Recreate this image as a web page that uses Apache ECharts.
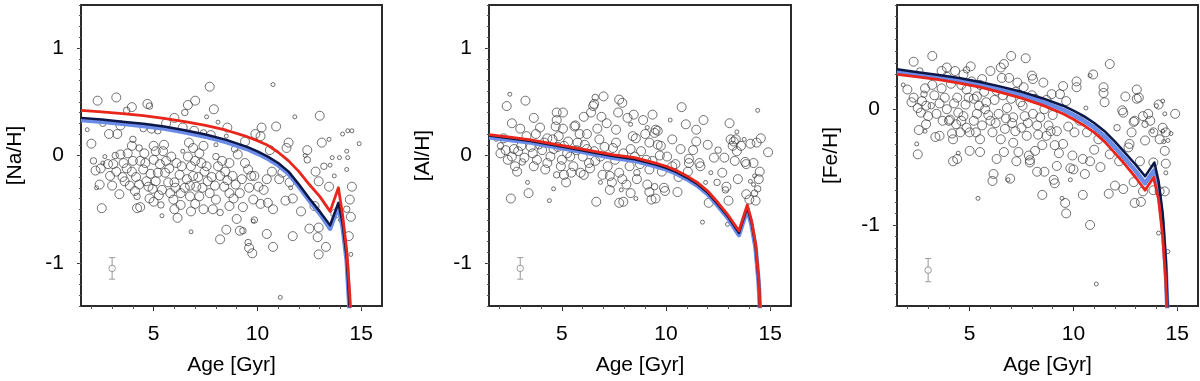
<!DOCTYPE html>
<html>
<head>
<meta charset="utf-8">
<script src="https://cdn.jsdelivr.net/npm/echarts@6/dist/echarts.min.js"></script>
<style>
  html, body { margin: 0; padding: 0; background: #fff; }
  #main { width: 1200px; height: 381px; }
</style>
</head>
<body>
<div id="main"></div>
<script>
// [age, value, size class] size class: 1 small, 2 medium, 3 large
var naPts = [
  [7.7,0.64,3],[10.75,0.66,1],[2.3,0.51,3],[3.2,0.54,3],[4.7,0.48,3],[4.8,0.46,2],[3.95,0.45,3],[3.7,0.42,2],[7.0,0.51,3],[6.65,0.47,3],
  [7.9,0.43,3],[6.5,0.40,2],[7.55,0.36,1],[6.0,0.35,3],[8.55,0.26,3],[8.1,0.31,1],[13.0,0.37,3],[11.8,0.36,1],[10.9,0.27,3],[10.2,0.26,3],
  [1.8,0.24,1],[2.0,0.11,3],[2.85,0.20,3],[3.25,0.20,3],[2.55,0.30,2],[4.9,0.25,3],[4.5,0.25,2],[5.2,0.23,2],[5.6,0.30,3],[6.4,0.26,3],
  [6.95,0.23,3],[7.4,0.21,2],[7.75,0.19,3],[8.5,0.18,1],[9.4,0.13,3],[10.15,0.18,3],[11.5,0.12,3],[11.4,0.07,3],[12.4,0.05,3],[13.1,0.12,3],
  [13.45,0.15,1],[14.1,0.20,1],[14.35,0.23,1],[14.55,0.23,1],[14.9,0.11,1],[14.3,0.04,1],[14.35,-0.02,1],[14.3,-0.13,1],[13.7,-0.19,1],[13.5,-0.09,1],
  [13.6,-0.02,1],[13.95,-0.02,1],[12.3,0.0,1],[12.4,-0.04,2],[12.8,-0.15,3],[13.2,-0.10,2],[12.95,-0.24,3],[13.45,-0.29,3],[14.55,-0.29,3],[14.45,-0.41,3],
  [13.75,-0.54,3],[14.5,-0.57,3],[14.0,-0.60,1],[14.4,-0.75,3],[14.5,-0.92,1],[14.3,-0.50,2],[12.75,-0.47,3],[12.95,-0.67,3],[12.5,-0.68,3],[12.9,-0.76,3],
  [13.3,-0.85,3],[12.95,-0.92,3],[12.1,-0.52,3],[11.7,-0.75,3],[11.7,-0.40,3],[11.35,-0.42,3],[10.75,-0.50,3],[10.5,-0.44,3],[10.45,-0.73,3],[10.75,-0.85,3],
  [11.2,-0.16,3],[11.55,-0.25,3],[11.6,-0.30,1],[11.05,-0.22,3],[10.7,-0.15,3],[10.45,-0.22,3],[10.3,-0.32,3],[10.05,-0.29,3],[9.8,-0.41,3],[9.55,-0.81,2],
  [9.6,-0.86,3],[9.75,-0.91,3],[9.15,-0.70,3],[9.3,-0.70,2],[8.5,-0.69,3],[8.2,-0.78,3],[9.8,-0.61,1],[9.85,-0.60,2],[9.0,-0.59,3],[8.65,-0.47,3],
  [8.2,-0.53,2],[7.85,-0.50,3],[7.4,-0.50,3],[6.8,-0.52,3],[6.15,-0.58,3],[6.8,-0.71,1],[6.3,-0.46,3],[5.4,-0.56,1],[5.0,-0.43,3],[4.2,-0.49,3],
  [4.35,-0.48,3],[2.5,-0.49,3],[2.4,-0.27,3],[2.9,-0.19,3],[2.2,-0.14,3],[2.25,-0.30,1],[2.65,-0.01,1],[2.8,-0.08,3],[2.55,-0.07,1],[3.05,-0.08,3],
  [3.4,0.01,3],[3.15,0.0,2],[3.55,-0.07,3],[3.75,0.02,3],[3.35,-0.36,3],[3.6,-0.24,3],[3.95,-0.15,3],[4.1,-0.33,3],[4.2,-0.38,2],[4.35,-0.05,3],
  [4.5,-0.13,3],[4.65,-0.24,3],[4.75,-0.29,3],[3.95,0.09,3],[4.3,0.07,2],[5.0,0.09,3],[5.1,0.04,3],[5.0,-0.04,3],[5.45,0.04,3],[5.3,-0.08,3],
  [5.2,-0.16,3],[5.1,-0.24,3],[5.55,-0.16,3],[5.7,-0.25,3],[5.4,-0.32,3],[5.8,-0.35,3],[5.95,-0.41,3],[5.85,-0.01,3],[6.1,-0.07,3],[6.25,-0.18,3],
  [6.5,-0.30,3],[6.4,0.04,1],[6.65,-0.01,3],[6.8,-0.10,3],[6.9,-0.19,3],[7.05,-0.29,3],[7.2,0.02,3],[7.3,-0.07,3],[7.45,-0.15,3],[7.6,-0.24,3],
  [7.7,-0.35,3],[8.0,-0.01,2],[8.1,-0.10,3],[8.2,-0.19,3],[8.4,-0.29,3],[8.65,-0.07,3],[8.8,-0.19,3],[8.95,-0.27,3],[9.15,-0.35,3],[9.05,0.01,3],
  [9.4,-0.07,3],[9.55,-0.13,3],[9.7,-0.19,3],[9.85,-0.19,3],[8.65,-0.35,3],[8.0,-0.41,3],[7.2,-0.38,3],[6.75,-0.38,3],[6.3,-0.35,3],[4.8,-0.40,3],
  [7.4,0.09,3],[6.9,0.07,3],[8.9,0.06,2],[8.0,0.10,1],[11.1,-1.32,1],
  [2.1,-0.05,2],[2.45,-0.12,3],[3.0,-0.28,3],[3.2,-0.15,3],[3.5,-0.20,3],[3.7,-0.12,3],[3.85,-0.28,3],[4.0,-0.05,3],[4.15,-0.20,3],[4.3,-0.27,3],
  [4.55,0.02,3],[4.6,-0.07,3],[4.85,-0.17,3],[4.95,-0.31,3],[5.25,-0.37,3],[5.35,-0.46,2],[5.6,-0.05,3],[5.75,-0.12,3],[6.0,-0.25,3],[6.05,-0.30,3],
  [6.35,-0.10,3],[6.6,-0.22,3],[6.75,-0.28,3],[7.0,-0.05,3],[7.15,-0.20,3],[7.35,-0.30,3],[7.55,-0.10,3],[7.8,-0.20,3],[7.95,-0.28,3],[8.3,-0.05,3],
  [8.45,-0.15,3],[8.55,-0.23,3],[9.25,-0.22,3],[9.3,-0.48,3],[9.6,-0.30,3],[10.15,-0.45,3],[8.85,-0.40,3],[7.0,-0.45,3],[6.0,-0.50,3],[5.5,0.10,3],
  [6.7,0.12,3],[4.0,0.15,2],[3.4,0.28,3],[9.9,0.20,3],[10.6,0.05,3]
];

var alPts = [
  [2.5,0.57,1],[2.35,0.46,3],[3.25,0.51,3],[2.6,0.30,3],[2.05,0.02,3],[1.85,0.15,1],[2.2,0.16,3],[2.55,-0.40,3],[3.3,0.18,3],[3.05,0.09,3],
  [3.65,0.35,3],[3.95,0.26,3],[3.35,-0.25,1],[3.4,-0.35,3],[2.75,-0.10,3],[2.6,-0.01,3],[2.85,-0.15,3],[3.1,-0.06,2],[3.6,0.02,3],[3.65,-0.10,3],
  [3.8,-0.04,3],[4.15,0.12,3],[4.2,-0.13,3],[4.4,-0.42,1],[4.45,-0.01,3],[4.6,0.06,3],[4.7,0.27,3],[4.75,0.40,3],[4.75,0.33,3],[5.05,0.40,3],
  [4.85,0.18,3],[5.1,0.09,3],[5.0,-0.04,3],[4.95,-0.10,3],[5.1,-0.18,3],[5.2,-0.25,3],[4.6,-0.31,1],[5.25,0.02,3],[5.6,0.27,3],[5.65,0.28,3],
  [5.4,-0.01,3],[5.55,-0.10,3],[5.75,0.12,3],[6.0,-0.01,3],[6.05,0.36,3],[6.4,0.40,3],[6.5,0.46,3],[6.55,0.48,3],[6.6,0.54,2],[7.0,0.55,3],
  [6.9,0.36,3],[6.2,0.20,3],[5.9,-0.16,3],[6.05,-0.18,3],[6.3,-0.07,3],[6.55,0.04,3],[6.8,0.15,3],[6.85,-0.01,3],[6.85,-0.25,1],[6.95,-0.18,3],
  [7.2,-0.10,3],[7.3,-0.19,3],[7.3,-0.32,3],[7.45,0.07,3],[6.65,-0.43,3],[7.6,0.24,3],[7.75,0.52,3],[7.9,0.49,3],[7.7,0.40,3],[8.15,0.35,3],
  [8.45,0.38,3],[8.3,0.29,1],[7.75,-0.44,3],[7.95,-0.43,3],[7.85,-0.32,1],[7.9,-0.22,3],[8.25,-0.10,3],[8.3,-0.35,3],[8.55,-0.40,1],[8.6,-0.22,3],
  [8.55,0.16,3],[8.8,0.04,3],[8.9,0.33,3],[9.1,0.26,1],[9.2,0.12,3],[9.45,0.21,3],[9.35,0.38,3],[9.6,0.23,3],[9.5,0.24,3],[9.05,-0.04,3],
  [9.2,-0.13,3],[9.1,-0.27,3],[9.2,-0.34,3],[9.3,-0.41,3],[9.5,-0.40,3],[9.7,0.0,3],[9.75,0.09,3],[9.9,-0.30,3],[9.95,-0.33,3],[10.05,-0.01,3],
  [10.2,0.33,1],[10.3,-0.10,3],[10.45,-0.08,3],[10.55,-0.34,3],[10.7,0.06,3],[10.75,0.45,3],[10.95,0.29,3],[11.1,-0.03,3],[11.1,-0.07,3],[11.05,-0.15,3],
  [11.45,0.24,3],[11.45,0.13,3],[11.6,-0.07,3],[11.65,-0.10,3],[11.8,0.33,3],[11.75,-0.62,1],[11.9,-0.25,1],[12.05,-0.44,3],[12.15,-0.16,1],[12.3,-0.02,3],
  [12.45,-0.25,2],[12.7,-0.16,3],[12.8,-0.02,3],[12.85,-0.32,2],[12.9,-0.29,3],[12.95,-0.64,1],[13.05,0.30,3],[13.1,0.15,3],[13.2,0.09,3],[13.0,-0.42,3],
  [13.4,0.22,1],[13.35,0.15,3],[13.25,0.13,3],[13.6,0.09,3],[13.4,0.04,3],[13.45,-0.22,3],[13.75,0.15,1],[13.8,-0.06,3],[13.85,-0.08,3],[14.05,0.11,3],
  [14.0,-0.41,3],[13.85,-0.36,3],[14.2,-0.07,3],[14.4,0.42,1],[14.3,-0.42,3],[14.35,0.12,3],[14.55,0.16,3],[14.5,-0.15,3],[14.45,-0.22,3],[14.2,-0.27,1],
  [14.4,-0.31,2],[14.25,-0.35,2],[14.05,-0.24,1],[14.9,0.03,3],[14.25,-0.19,1],[2.05,0.09,2],[2.4,-0.04,3],[2.7,0.06,3],[4.3,0.16,3],[3.9,0.09,2],
  [4.75,-0.18,2],[7.55,-0.04,3],[7.75,-0.16,3],[8.5,-0.01,3],[8.6,-0.16,2],[6.2,0.06,3],[9.45,-0.29,2],[8.3,0.06,3],
  [2.9,0.04,3],[3.2,-0.02,3],[3.5,0.08,3],[3.75,0.20,3],[4.05,0.05,3],[4.3,-0.07,3],[4.55,0.15,3],[4.8,0.08,3],[5.3,0.13,3],[5.45,-0.16,3],
  [5.7,0.05,3],[5.85,0.20,3],[6.1,0.10,3],[6.35,-0.12,3],[6.6,-0.05,3],[6.7,0.25,3],[7.05,0.08,3],[7.15,0.30,3],[7.4,-0.25,3],[7.6,0.12,3],
  [7.95,0.02,3],[8.1,-0.27,3],[8.4,0.18,3],[8.75,-0.08,3],[9.0,0.20,3],[9.35,-0.05,3],[9.6,0.10,3],[9.8,-0.15,3],[10.3,0.15,3],[10.6,-0.20,3],
  [11.3,0.05,3],[12.0,0.10,3],[12.5,0.05,2],[13.3,-0.05,3],[5.05,0.25,3],[3.0,0.25,3],[2.3,0.05,3]
];

var fePts = [
  [2.3,0.41,3],[3.2,0.46,3],[1.8,0.21,1],[2.0,0.17,3],[2.2,0.06,3],[2.6,0.33,2],[2.8,0.13,2],[2.85,0.18,3],[2.5,0.01,3],[2.65,-0.03,3],
  [2.9,0.03,3],[2.55,-0.18,3],[2.45,-0.30,1],[2.5,-0.39,3],[2.85,-0.19,1],[2.9,-0.13,3],[3.15,0.03,2],[3.2,0.21,3],[3.65,0.33,3],[3.9,0.36,3],
  [3.4,-0.04,3],[3.35,-0.24,3],[3.55,-0.23,3],[3.65,0.18,3],[3.8,0.10,3],[3.9,0.0,3],[4.05,-0.09,3],[4.15,-0.21,3],[4.2,-0.26,3],[4.2,-0.45,3],
  [4.4,-0.43,3],[4.45,-0.38,1],[4.35,-0.13,3],[4.45,-0.03,3],[4.4,0.10,3],[4.6,0.21,3],[4.7,0.30,3],[4.85,0.34,2],[5.05,0.37,3],[4.85,0.17,3],
  [4.8,0.04,3],[4.7,-0.06,3],[4.85,-0.16,3],[5.0,-0.20,3],[5.0,-0.36,3],[5.2,0.09,3],[5.35,-0.04,3],[5.35,0.11,3],[5.5,0.21,3],[5.6,0.26,3],
  [5.4,-0.77,1],[5.5,-0.37,3],[5.6,-0.14,3],[5.75,0.0,3],[6.0,0.33,3],[6.1,-0.20,3],[6.15,-0.56,3],[6.1,-0.62,3],[6.3,-0.43,3],[6.5,0.36,3],
  [6.65,0.39,3],[6.55,0.27,3],[6.3,0.16,3],[6.4,-0.04,3],[6.7,-0.17,3],[6.65,-0.37,3],[6.95,-0.60,3],[6.85,-0.61,1],[7.0,0.46,3],[6.9,0.27,3],
  [7.0,0.09,3],[7.1,-0.07,3],[7.2,-0.19,3],[7.1,-0.29,3],[7.25,-0.45,3],[7.35,-0.37,3],[7.3,0.23,3],[7.45,0.06,3],[7.7,0.44,3],[7.6,0.19,3],
  [7.65,-0.06,3],[7.75,-0.23,3],[7.85,-0.40,3],[7.9,-0.44,3],[7.9,-0.46,3],[8.0,0.29,3],[8.05,0.26,3],[8.15,0.09,3],[8.05,-0.04,3],[8.25,-0.14,3],
  [8.15,-0.36,3],[8.25,-0.54,3],[8.5,-0.74,3],[8.6,-0.54,3],[8.55,0.23,3],[8.6,0.0,3],[8.7,-0.23,3],[8.8,-0.14,3],[8.95,0.13,3],[9.05,-0.61,3],
  [9.1,-0.64,3],[9.2,-0.49,3],[9.1,-0.31,3],[9.2,-0.19,3],[9.35,0.13,3],[9.5,0.20,3],[9.45,-0.77,1],[9.6,-0.81,3],[9.65,-0.90,3],[9.85,-0.51,3],
  [9.85,-0.61,1],[9.65,0.07,3],[9.5,-0.30,3],[9.95,-0.40,3],[10.05,-0.20,3],[10.15,0.24,3],[10.15,0.19,3],[10.45,-0.43,3],[10.55,-0.56,3],[10.45,-0.74,3],
  [10.6,0.01,1],[10.65,-0.20,3],[10.8,-1.0,3],[10.8,-0.45,3],[10.95,0.30,3],[10.8,0.29,1],[11.1,-1.51,1],[11.2,-0.26,3],[11.45,0.19,3],[11.45,0.14,3],
  [11.5,0.06,3],[11.75,0.39,3],[11.75,-0.39,3],[11.7,-0.73,3],[12.0,-0.66,3],[12.1,-0.16,2],[12.35,-0.01,3],[12.4,-0.03,3],[12.4,-0.69,3],[12.5,0.11,3],
  [12.65,-0.33,3],[12.7,-0.30,3],[12.9,-0.11,3],[12.95,-0.10,3],[13.05,0.17,3],[13.05,0.09,3],[13.15,0.10,3],[12.95,-0.81,3],[13.25,-0.80,3],[12.9,-0.63,3],
  [13.35,-0.71,3],[13.35,-0.06,3],[13.6,-0.04,3],[13.7,-0.10,3],[13.45,-0.27,3],[13.45,-0.13,2],[13.8,-0.19,1],[13.85,-0.20,3],[14.1,0.04,3],[14.0,0.03,1],
  [14.3,0.07,1],[14.4,-0.04,1],[14.45,-0.20,3],[14.15,-0.26,3],[14.3,-0.16,3],[14.3,-0.19,1],[14.4,-0.36,3],[14.35,-0.28,1],[14.45,-0.47,3],[13.85,-0.46,3],
  [13.85,-0.70,3],[14.15,-0.71,3],[14.4,-0.71,3],[14.1,-1.07,1],[14.55,-1.23,1],[14.9,-0.04,3],[14.45,-0.55,1],[14.7,-0.21,1],[14.55,-0.27,1],[4.0,-0.10,3],
  [5.2,-0.10,3],[5.8,0.06,3],[6.0,-0.10,3],[6.8,0.01,3],[7.5,-0.16,3],[8.4,-0.07,3],[8.9,-0.19,3],[8.5,-0.31,3],[6.5,-0.26,3],[5.5,-0.26,3],
  [4.55,-0.20,3],
  [2.3,0.10,3],[2.7,0.07,3],[3.0,-0.06,3],[3.3,0.12,3],[3.55,0.05,3],[3.7,-0.10,3],[4.1,0.22,3],[4.25,0.05,3],[4.6,-0.10,3],[4.95,0.10,3],
  [5.1,0.24,3],[5.3,-0.20,3],[5.45,0.03,3],[5.7,0.15,3],[5.9,-0.05,3],[6.2,0.08,3],[6.25,-0.12,3],[6.6,0.12,3],[6.75,-0.08,3],[7.05,-0.12,3],
  [7.2,0.15,3],[7.55,0.03,3],[7.8,-0.12,3],[8.0,0.12,3],[8.3,-0.22,3],[8.7,0.08,3],[9.0,-0.05,3],[9.3,-0.38,3],[9.75,-0.15,3],[10.3,-0.10,3],
  [10.0,-0.52,3],[11.0,-0.35,3],[11.3,-0.50,3],[12.2,-0.45,3],[12.8,-0.20,3],[13.2,-0.45,3],[3.9,0.28,3],[4.3,0.33,3]
];

// model curves [age, value]
var naRed = [[1.5,0.42],[2.5,0.405],[3.5,0.39],[4.5,0.37],[5.5,0.345],[6.5,0.315],[7.5,0.28],[8.5,0.235],[9.5,0.175],[10,0.138],[10.5,0.095],[11,0.03],[11.5,-0.05],[12,-0.15],[12.5,-0.27],[13,-0.38],[13.5,-0.52],[13.9,-0.30],[14.1,-0.55],[14.3,-0.88],[14.45,-1.3],[14.55,-1.8]];
var naNavy = [[1.5,0.35],[2.5,0.335],[3.5,0.315],[4.5,0.295],[5.5,0.27],[6.5,0.235],[7.5,0.195],[8.5,0.145],[9.5,0.08],[10,0.038],[10.5,-0.01],[11,-0.07],[11.5,-0.15],[12,-0.27],[12.5,-0.40],[13,-0.52],[13.5,-0.65],[13.9,-0.44],[14.1,-0.63],[14.3,-0.95],[14.42,-1.35],[14.5,-1.8]];
var naBlue = [[1.5,0.33],[2.5,0.315],[3.5,0.295],[4.5,0.275],[5.5,0.25],[6.5,0.215],[7.5,0.175],[8.5,0.125],[9.5,0.06],[10,0.018],[10.5,-0.03],[11,-0.09],[11.5,-0.17],[12,-0.29],[12.5,-0.42],[13,-0.54],[13.5,-0.68],[13.9,-0.47],[14.1,-0.66],[14.3,-0.98],[14.42,-1.38],[14.5,-1.8]];

var alRed = [[1.5,0.195],[2.5,0.17],[3.5,0.145],[4.5,0.11],[5.5,0.075],[6.5,0.04],[7.5,0.005],[8.5,-0.02],[9.5,-0.07],[10,-0.10],[10.5,-0.14],[11,-0.19],[11.5,-0.25],[12,-0.33],[12.5,-0.44],[13,-0.56],[13.5,-0.70],[13.9,-0.46],[14.1,-0.60],[14.3,-0.82],[14.45,-1.15],[14.55,-1.6]];
var alNavy = [[1.5,0.185],[2.5,0.16],[3.5,0.135],[4.5,0.10],[5.5,0.065],[6.5,0.028],[7.5,-0.008],[8.5,-0.035],[9.5,-0.085],[10,-0.115],[10.5,-0.155],[11,-0.205],[11.5,-0.265],[12,-0.345],[12.5,-0.455],[13,-0.575],[13.5,-0.72],[13.9,-0.48],[14.1,-0.62],[14.3,-0.84],[14.45,-1.17],[14.55,-1.6]];
var alBlue = [[1.5,0.17],[2.5,0.145],[3.5,0.12],[4.5,0.085],[5.5,0.05],[6.5,0.013],[7.5,-0.023],[8.5,-0.05],[9.5,-0.10],[10,-0.13],[10.5,-0.17],[11,-0.22],[11.5,-0.28],[12,-0.36],[12.5,-0.47],[13,-0.59],[13.5,-0.74],[13.9,-0.50],[14.1,-0.64],[14.3,-0.86],[14.45,-1.19],[14.55,-1.6]];

var feNavy = [[1.5,0.345],[2.5,0.32],[3.5,0.295],[4.5,0.27],[5.5,0.235],[6.5,0.195],[7.5,0.15],[8.5,0.095],[9.5,0.03],[10,-0.012],[10.5,-0.06],[11,-0.12],[11.5,-0.19],[12,-0.28],[12.5,-0.38],[13,-0.48],[13.45,-0.58],[13.9,-0.46],[14.1,-0.62],[14.3,-0.90],[14.45,-1.3],[14.55,-1.8]];
var feBlue = [[1.5,0.32],[2.5,0.295],[3.5,0.27],[4.5,0.245],[5.5,0.21],[6.5,0.168],[7.5,0.122],[8.5,0.065],[9.5,-0.005],[10,-0.05],[10.5,-0.10],[11,-0.16],[11.5,-0.235],[12,-0.33],[12.5,-0.43],[13,-0.535],[13.45,-0.64],[13.88,-0.53],[14.1,-0.70],[14.3,-1.0],[14.45,-1.4],[14.55,-1.85]];
var feRed = [[1.5,0.30],[2.5,0.28],[3.5,0.255],[4.5,0.225],[5.5,0.19],[6.5,0.145],[7.5,0.095],[8.5,0.035],[9.5,-0.04],[10,-0.087],[10.5,-0.14],[11,-0.20],[11.5,-0.28],[12,-0.38],[12.5,-0.48],[13,-0.59],[13.45,-0.70],[13.86,-0.59],[14.1,-0.78],[14.3,-1.1],[14.45,-1.5],[14.55,-1.9]];

// typical error: [age, value, error]
var naErr = [3.0, -1.05, 0.1];
var alErr = [3.0, -1.05, 0.1];
var feErr = [3.0, -1.39, 0.1];

var xMajor = [5, 10, 15];
var xMinor = [2, 3, 4, 6, 7, 8, 9, 11, 12, 13, 14, 15];
var yMajor = [-1, 0, 1];

function steps(a, b, s) {
  var out = [];
  for (var v = a; v <= b + 1e-9; v += s) out.push(Math.round(v * 10) / 10);
  return out;
}

var sizePx = { 1: 4, 2: 6.5, 3: 9 };
var font = 'Liberation Sans, Arial, sans-serif';

var panels = [
  { left: 81, width: 301, yMin: -1.4, yMax: 1.4, name: '[Na/H]', pts: naPts, red: naRed, navy: naNavy, blue: naBlue, err: naErr },
  { left: 489, width: 302, yMin: -1.4, yMax: 1.4, name: '[Al/H]', pts: alPts, red: alRed, navy: alNavy, blue: alBlue, err: alErr },
  { left: 897, width: 301, yMin: -1.7, yMax: 0.9, name: '[Fe/H]', pts: fePts, red: feRed, navy: feNavy, blue: feBlue, err: feErr }
];

var grid = [], xAxis = [], yAxis = [], series = [];

panels.forEach(function(p, i) {
  grid.push({ left: p.left, top: 5, width: p.width, height: 301, show: true, borderColor: '#2b2b2b', borderWidth: 2, backgroundColor: '#fff' });
  var yTicks = steps(p.yMin, p.yMax, 0.1);
  // labelled axes (major ticks)
  xAxis.push({
    gridIndex: i, type: 'value', min: 1.5, max: 16,
    name: 'Age [Gyr]', nameLocation: 'middle', nameGap: 49,
    nameTextStyle: { fontFamily: font, fontSize: 21, color: '#000' },
    axisLine: { show: false, onZero: false }, splitLine: { show: false },
    axisTick: { customValues: xMajor, length: 5, lineStyle: { color: '#333', width: 1 } },
    axisLabel: { customValues: xMajor, margin: 18, fontFamily: font, fontSize: 21, color: '#000' }
  });
  yAxis.push({
    gridIndex: i, type: 'value', min: p.yMin, max: p.yMax,
    name: p.name, nameLocation: 'middle', nameGap: 55, nameRotate: 90,
    nameTextStyle: { fontFamily: font, fontSize: 21, color: '#000' },
    axisLine: { show: false, onZero: false }, splitLine: { show: false },
    axisTick: { customValues: yMajor, length: 4, lineStyle: { color: '#333', width: 1 } },
    axisLabel: { customValues: yMajor, margin: 17, fontFamily: font, fontSize: 21, color: '#000' }
  });
  // minor-tick axes
  xAxis.push({
    gridIndex: i, type: 'value', min: 1.5, max: 16, position: 'bottom',
    axisLine: { show: false, onZero: false }, splitLine: { show: false }, axisLabel: { show: false },
    axisTick: { customValues: xMinor, length: 3, lineStyle: { color: '#555', width: 1 } }
  });
  yAxis.push({
    gridIndex: i, type: 'value', min: p.yMin, max: p.yMax, position: 'left',
    axisLine: { show: false, onZero: false }, splitLine: { show: false }, axisLabel: { show: false },
    axisTick: { customValues: yTicks, length: 2, lineStyle: { color: '#555', width: 1 } }
  });

  var xi = i * 2, yi = i * 2;
  series.push({
    type: 'scatter', xAxisIndex: xi, yAxisIndex: yi, data: p.pts, z: 2,
    symbol: 'circle',
    symbolSize: function(v) { return sizePx[v[2]]; },
    itemStyle: { color: 'rgba(0,0,0,0)', borderColor: '#3a3a3a', borderWidth: 0.9 },
    silent: true
  });
  [[p.blue, '#6a8be8', 4.5], [p.navy, '#0c1748', 2.5], [p.red, '#e8261c', 2.8]].forEach(function(c, k) {
    series.push({
      type: 'line', xAxisIndex: xi, yAxisIndex: yi, data: c[0], z: 3 + k,
      symbol: 'none', smooth: false, clip: true,
      lineStyle: { color: c[1], width: c[2], join: 'round' }, silent: true
    });
  });
  // error bar
  series.push({
    type: 'line', xAxisIndex: xi, yAxisIndex: yi, z: 6,
    data: [[p.err[0], p.err[1] - p.err[2]], [p.err[0], p.err[1] + p.err[2]]],
    symbol: 'rect', symbolSize: [6, 1], showAllSymbol: true,
    lineStyle: { color: '#999', width: 1 }, itemStyle: { color: '#999' }, silent: true
  });
  series.push({
    type: 'scatter', xAxisIndex: xi, yAxisIndex: yi, z: 7,
    data: [[p.err[0], p.err[1]]], symbolSize: 6.5,
    itemStyle: { color: '#fff', borderColor: '#666', borderWidth: 0.8 }, silent: true
  });
});

var myChart = echarts.init(document.getElementById('main'), null, { renderer: 'canvas' });
myChart.setOption({
  animation: false,
  backgroundColor: '#fff',
  grid: grid,
  xAxis: xAxis,
  yAxis: yAxis,
  series: series
});
</script>
</body>
</html>
